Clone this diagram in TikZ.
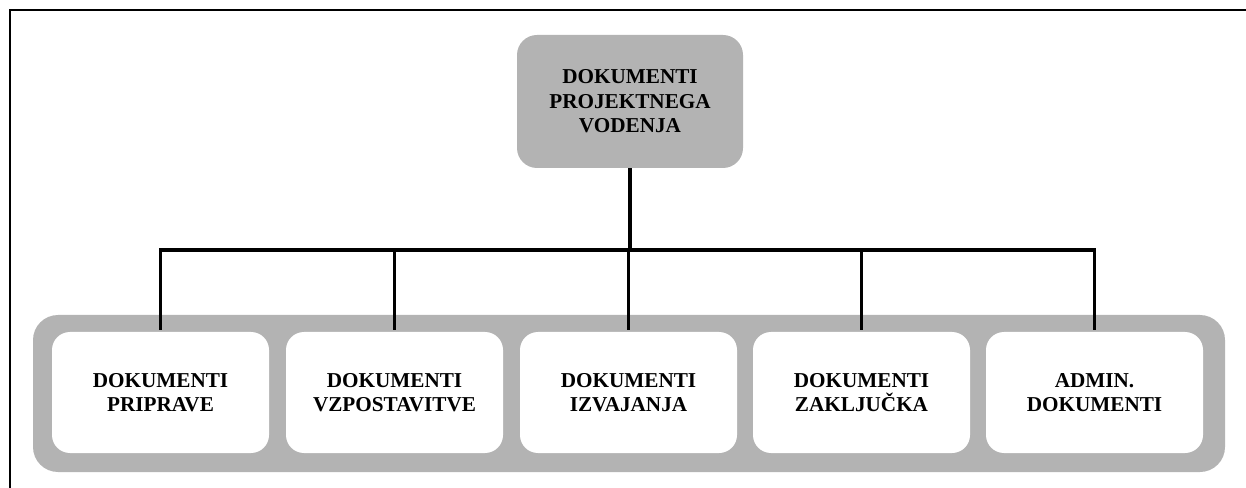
\documentclass[tikz,border=0pt]{standalone}
\usepackage{fontspec}
\setmainfont{Liberation Serif}
\definecolor{boxgray}{RGB}{179,179,179}
\begin{document}
\begin{tikzpicture}[x=0.75pt,y=-0.75pt,
  label font/.style={font=\fontsize{15.9pt}{18.4pt}\selectfont\bfseries},
  headbox/.style={label font, fill=boxgray, draw=none, rounded corners=15pt,
    minimum width=169.5pt, minimum height=99.75pt, align=center, inner sep=0pt},
  docbox/.style={label font, fill=white, draw=none, rounded corners=13.5pt,
    minimum width=162.75pt, minimum height=90.75pt, align=center, inner sep=0pt},
  conn/.style={line width=2.6pt, draw=black},
  frameline/.style={line width=1.9pt, draw=black}]
\useasboundingbox (0,0) rectangle (1246,488);

% page frame (left and top edges)
\draw[frameline] (10,488) -- (10,10) -- (1246,10);

% grey band holding the five document groups
\fill[boxgray, rounded corners=18.75pt] (33,315) rectangle (1225,472);

% head node
\node[headbox] (head) at (630,101.5) {DOKUMENTI\\PROJEKTNEGA\\VODENJA};

% document groups
\node[docbox] (b1) at (160.5,392.5) {DOKUMENTI\\PRIPRAVE};
\node[docbox] (b2) at (394.5,392.5) {DOKUMENTI\\VZPOSTAVITVE};
\node[docbox] (b3) at (628.5,392.5) {DOKUMENTI\\IZVAJANJA};
\node[docbox] (b4) at (861.5,392.5) {DOKUMENTI\\ZAKLJUČKA};
\node[docbox] (b5) at (1094.5,392.5) {ADMIN.\\DOKUMENTI};

% tree connectors
\coordinate (bar) at (head.south |- 0,250);
\draw[conn] (head.south) -- (bar);
\foreach \k in {1,...,5}{
  \draw[conn] (bar) -| ([yshift=1.5pt]b\k.north);
}
\end{tikzpicture}
\end{document}
